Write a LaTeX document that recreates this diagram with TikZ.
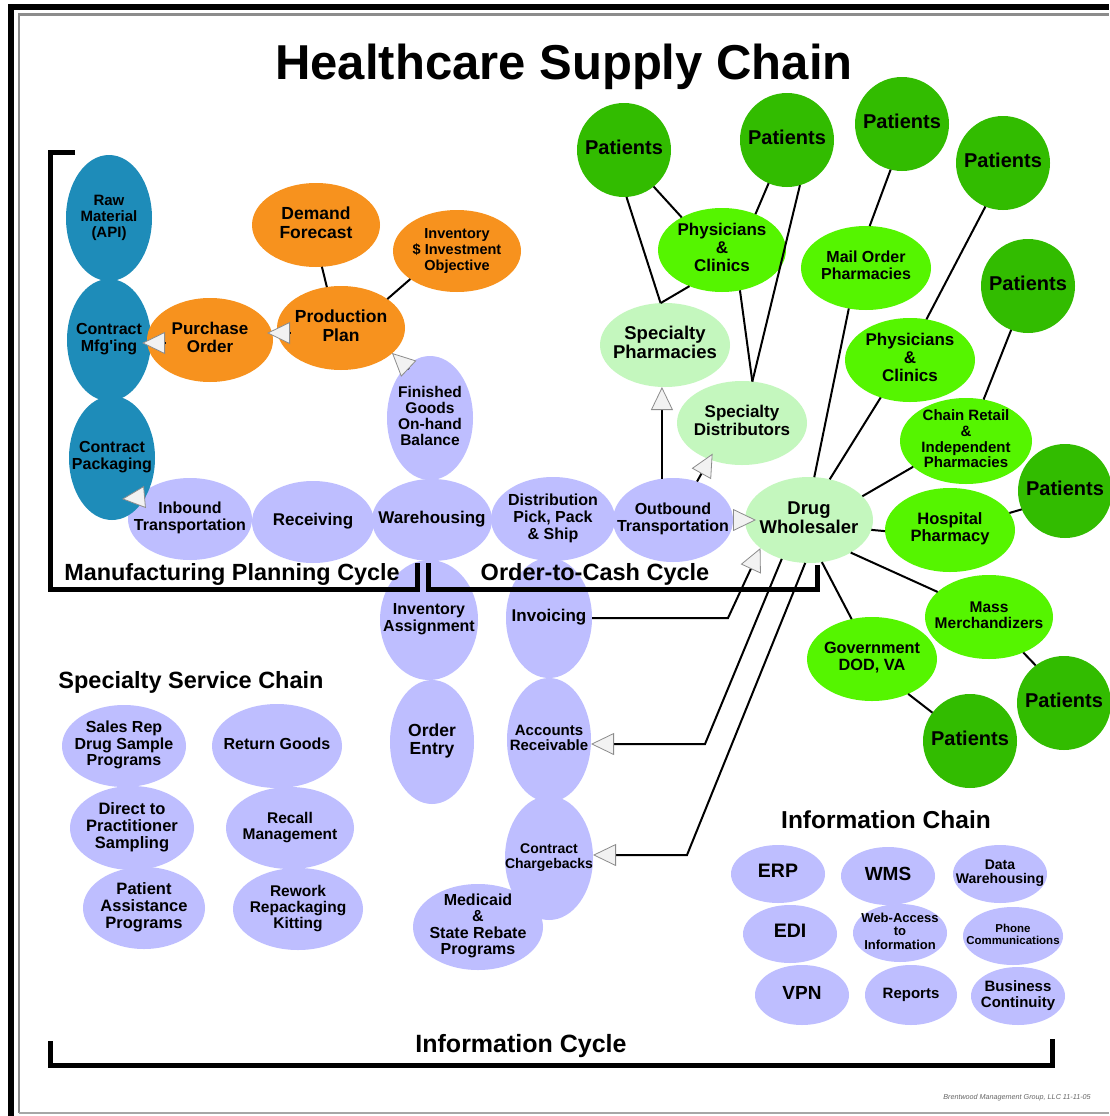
\documentclass[tikz,border=0pt]{standalone}
\usepackage{fontspec}
\setmainfont{Liberation Sans}[Ligatures=TeXOff]
\usetikzlibrary{shapes.geometric,arrows.meta,calc}
\definecolor{cteal}{RGB}{30,140,185}
\definecolor{corange}{RGB}{247,146,30}
\definecolor{clav}{RGB}{190,190,255}
\definecolor{clgreen}{RGB}{196,247,190}
\definecolor{cbgreen}{RGB}{85,245,0}
\definecolor{cdgreen}{RGB}{50,188,0}
\definecolor{tipfill}{RGB}{242,242,242}
\definecolor{tipline}{RGB}{140,140,140}
\newcommand\T[3]{\fontsize{#1}{#2}\selectfont\smash{\makebox[0pt]{\raisebox{-0.25em}{\begin{tabular}{@{}c@{}}#3\end{tabular}}}}}
\tikzset{
  ell/.style={ellipse, inner sep=0pt, outer sep=0pt, draw=none, font=\bfseries},
  E/.style 2 args={minimum width=#1pt, minimum height=#2pt},
  teal/.style={ell, fill=cteal},
  orng/.style={ell, fill=corange},
  lav/.style={ell, fill=clav},
  lgrn/.style={ell, fill=clgreen},
  bgrn/.style={ell, fill=cbgreen},
  pat/.style={ell, fill=cdgreen, E={94}{94}},
  ln/.style={draw=black, line width=2pt},
  tri/.style={draw=black, line width=2pt, -{Triangle[length=23pt,width=22pt,fill=tipfill,color=tipline,line width=0.8pt]}},
  brk/.style={draw=black, line width=5pt, line join=miter},
  lbl/.style={font=\bfseries, inner sep=0pt, anchor=base},
}
\begin{document}
\begin{tikzpicture}[x=1pt,y=-1pt]
\useasboundingbox (0,0) rectangle (1109,1116);
\fill[white] (0,0) rectangle (1109,1116);
% frame
\draw[black, line width=6pt] (11,1116) -- (11,7) -- (1109,7);
\draw[black!45, line width=2.5pt] (19,1113) -- (19,14.5) -- (1109,14.5);
\draw[black!35, line width=2pt] (19,1113) -- (1109,1113);

% title
\node[lbl, font=\bfseries\fontsize{49}{55}\selectfont] (title) at (564,80) {Healthcare Supply Chain};

% lavender process nodes
\node[lav, E={86}{124}] (fg) at (430,418) {\T{15.5}{16}{Finished\\Goods\\On-hand\\Balance}};
\node[lav, E={124}{82}] (ib) at (190,519) {\T{16}{17}{Inbound\\Transportation}};
\node[lav, E={122}{82}] (rc) at (313,522) {\T{17}{18}{Receiving}};
\node[lav, E={120}{82}] (wh) at (432,520) {\T{17}{18}{Warehousing}};
\node[lav, E={124}{84}] (dp) at (553,519) {\T{16}{17}{Distribution\\Pick, Pack\\\& Ship}};
\node[lav, E={120}{84}] (ob) at (673,520) {\T{16}{17}{Outbound\\Transportation}};
\node[lav, E={98}{120}] (ia) at (429,620) {\T{16}{16}{Inventory\\Assignment}};
\node[lav, E={84}{124}] (oe) at (432,742) {\T{17.5}{18}{Order\\Entry}};
\node[lav, E={86}{120}] (inv) at (549,618) {\T{17}{18}{Invoicing}};
\node[lav, E={84}{124}] (ar) at (549,740) {\T{15}{15}{Accounts\\Receivable}};
\node[lav, E={88}{124}] (cc) at (549,858) {\T{14}{14.5}{Contract\\Chargebacks}};
\node[lav, E={130}{86}] (md) at (478,927) {\T{16}{16.5}{Medicaid\\\&\\State Rebate\\Programs}};

% teal
\node[teal, E={86}{126}] (rm) at (109,218) {\T{15}{16}{Raw\\Material\\(API)}};
\node[teal, E={84}{122}] (cm) at (109,340) {\T{16}{17}{Contract\\Mfg'ing}};
\node[teal, E={86}{124}] (cp) at (112,458) {\T{16}{17}{Contract\\Packaging}};

% orange
\node[orng, E={128}{84}] (df) at (316,225) {\T{17.5}{19}{Demand\\Forecast}};
\node[orng, E={128}{82}] (iv) at (457,251) {\T{14.5}{16}{Inventory\\\$ Investment\\Objective}};
\node[orng, E={128}{84}] (pp) at (341,328) {\T{17.5}{19}{Production\\Plan}};
\node[orng, E={126}{84}] (po) at (210,340) {\T{17}{17}{Purchase\\Order}};

% specialty service chain
\node[lav, E={124}{82}] (sr) at (124,746) {\T{16}{16.5}{Sales Rep\\Drug Sample\\Programs}};
\node[lav, E={130}{84}] (rg) at (277,746) {\T{16}{17}{Return Goods}};
\node[lav, E={124}{84}] (dt) at (132,828) {\T{16.5}{16.5}{Direct to\\Practitioner\\Sampling}};
\node[lav, E={128}{82}] (rmg) at (290,828) {\T{15.5}{16.5}{Recall\\Management}};
\node[lav, E={122}{82}] (pas) at (144,908) {\T{16.5}{16.5}{Patient\\Assistance\\Programs}};
\node[lav, E={130}{82}] (rw) at (298,909) {\T{15.5}{16}{Rework\\Repackaging\\Kitting}};

% information chain
\node[lav, E={94}{58}] (erp) at (778,874) {\T{19.5}{20}{ERP}};
\node[lav, E={94}{58}] (wms) at (888,876) {\T{19}{20}{WMS}};
\node[lav, E={94}{58}] (dwh) at (1000,874) {\T{14}{13.5}{Data\\Warehousing}};
\node[lav, E={94}{58}] (edi) at (790,934) {\T{19.5}{20}{EDI}};
\node[lav, E={94}{58}] (web) at (900,933) {\T{13}{13}{Web-Access\\to\\Information}};
\node[lav, E={100}{58}] (phn) at (1013,936) {\T{11.5}{12.5}{Phone\\Communications}};
\node[lav, E={94}{60}] (vpn) at (802,995) {\T{19}{20}{VPN}};
\node[lav, E={92}{60}] (rpt) at (911,995) {\T{15}{16}{Reports}};
\node[lav, E={94}{58}] (bc) at (1018,996) {\T{15}{15}{Business\\Continuity}};

% light green
\node[lgrn, E={130}{84}] (spph) at (665,345) {\T{18.5}{18.5}{Specialty\\Pharmacies}};
\node[lgrn, E={130}{84}] (spd) at (742,423) {\T{17}{17}{Specialty\\Distributors}};
\node[lgrn, E={128}{86}] (dw) at (809,520) {\T{18.5}{18}{Drug\\Wholesaler}};

% bright green
\node[bgrn, E={128}{84}] (ph1) at (722,250) {\T{17}{17.5}{Physicians\\\&\\Clinics}};
\node[bgrn, E={130}{84}] (mo) at (866,268) {\T{16}{16.5}{Mail Order\\Pharmacies}};
\node[bgrn, E={130}{84}] (ph2) at (910,360) {\T{17}{17.5}{Physicians\\\&\\Clinics}};
\node[bgrn, E={132}{86}] (cr) at (966,441) {\T{15}{15.5}{Chain Retail\\\&\\Independent\\Pharmacies}};
\node[bgrn, E={130}{84}] (hp) at (950,530) {\T{16.5}{17}{Hospital\\Pharmacy}};
\node[bgrn, E={128}{84}] (mm) at (989,617) {\T{15.5}{16}{Mass\\Merchandizers}};
\node[bgrn, E={130}{84}] (gov) at (872,659) {\T{16.3}{17}{Government\\DOD, VA}};

% patients
\node[pat] (pa) at (624,150) {\T{20}{20}{Patients}};
\node[pat] (pb) at (787,140) {\T{20}{20}{Patients}};
\node[pat] (pc) at (902,124) {\T{20}{20}{Patients}};
\node[pat] (pd) at (1003,163) {\T{20}{20}{Patients}};
\node[pat] (pe) at (1028,286) {\T{20}{20}{Patients}};
\node[pat] (pf) at (1065,491) {\T{20}{20}{Patients}};
\node[pat] (pg) at (1064,703) {\T{20}{20}{Patients}};
\node[pat] (ph) at (970,741) {\T{20}{20}{Patients}};

% plain connectors
\draw[ln] (pa.273) -- (spph.96);
\draw[ln] (pa.309) -- (ph1.141);
\draw[ln] (ph1.228) -- (spph.96);
\draw[ln] (pb.247) -- (ph1.47);
\draw[ln] (pb.286) -- (spd.76);
\draw[ln] (ph1.294) -- (spd.76);
\draw[ln] (pc.256) -- (mo.85);
\draw[ln] (mo.247) -- (dw.83);
\draw[ln] (pd.248) -- (ph2.68);
\draw[ln] (ph2.232) -- (dw.63);
\draw[ln] (pe.249) -- (cr.67);
\draw[ln] (cr.206) -- (dw.24);
\draw[ln] (hp.181) -- (dw.351);
\draw[ln] (pf.203) -- (hp.16);
\draw[ln] (dw.322) -- (mm.154);
\draw[ln] (dw.287) -- (gov.117);
\draw[ln] (mm.314) -- (pg.127);
\draw[ln] (gov.316) -- (ph.143);
\draw[ln] (df.278) -- (pp.109);
\draw[ln] (iv.211) -- (pp.32);

% arrows (tips between touching nodes)
\draw[tri] (pp.west) ++(13,5) -- ++(-23,0);
\draw[tri] (po.west) ++(18,3) -- ++(-23,0);
\draw[tri] (fg.north) ++(-21,13) -- ++(-17,-16);
\draw[tri] (ib.west) ++(17,-22) -- ++(-23,2);
\draw[tri] (ob.east) -- ++(23,0);
\draw[tri] (ob.105) -- (ob.105 |- spph.south);
\draw[tri] (ob.58) -- ([shift={(5,-5)}]spd.226);

% elbow arrows
\coordinate (bi) at (728,618);
\coordinate (ba) at (705,744);
\coordinate (bcc) at (687,855);
\draw[tri] (inv.east) -- (bi) -- (dw.210);
\draw[tri] (dw.235) -- (ba) -- (ba -| ar.east);
\draw[tri] (dw.265) -- (bcc) -- (bcc -| cc.east);

% brackets
\draw[brk] (75,152) -- (50,152) -- (50,589) -- (417,589) -- (417,563);
\draw[brk] (428,563) -- (428,589) -- (817,589) -- (817,565);
\draw[brk] (50,1041) -- (50,1065) -- (1052,1065) -- (1052,1039);

% section labels
\node[lbl, font=\bfseries\fontsize{23.4}{26}\selectfont] (mpc) at (232,580) {Manufacturing Planning Cycle};
\node[lbl, font=\bfseries\fontsize{23.5}{26}\selectfont] (o2c) at (595,580) {Order-to-Cash Cycle};
\node[lbl, font=\bfseries\fontsize{23.5}{26}\selectfont] (ssc) at (191,688) {Specialty Service Chain};
\node[lbl, font=\bfseries\fontsize{24.5}{27}\selectfont] (ich) at (886,828) {Information Chain};
\node[lbl, font=\bfseries\fontsize{25}{27}\selectfont] (icy) at (521,1052) {Information Cycle};
\node[lbl, font=\itshape\fontsize{7.2}{8}\selectfont, text=black!60] (sig) at (1017,1099) {Brentwood Management Group, LLC 11-11-05};
\end{tikzpicture}
\end{document}
